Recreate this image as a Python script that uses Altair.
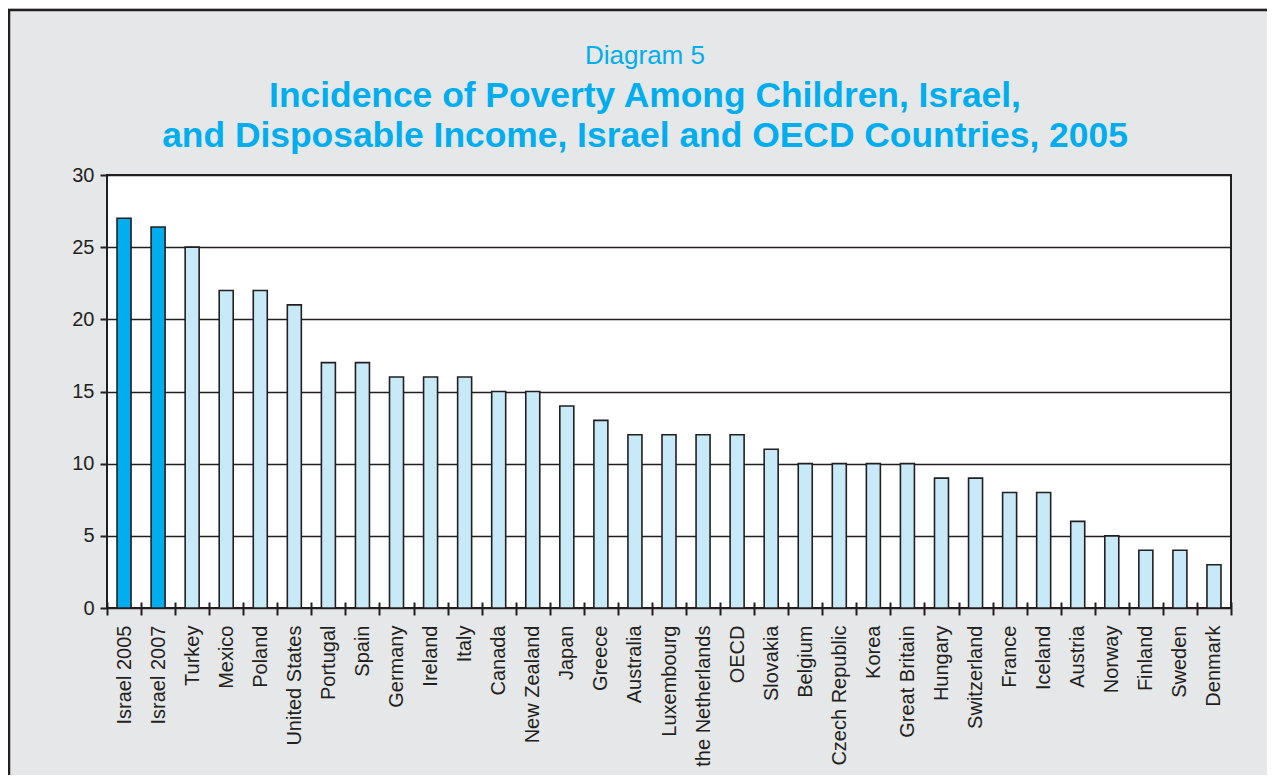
import altair as alt
import pandas as pd

categories = ["Israel 2005", "Israel 2007", "Turkey", "Mexico", "Poland", "United States",
              "Portugal", "Spain", "Germany", "Ireland", "Italy", "Canada", "New Zealand",
              "Japan", "Greece", "Australia", "Luxembourg", "the Netherlands", "OECD",
              "Slovakia", "Belgium", "Czech Republic", "Korea", "Great Britain", "Hungary",
              "Switzerland", "France", "Iceland", "Austria", "Norway", "Finland", "Sweden",
              "Denmark"]
values = [27, 26.4, 25, 22, 22, 21, 17, 17, 16, 16, 16, 15, 15, 14, 13, 12, 12, 12, 12,
          11, 10, 10, 10, 10, 9, 9, 8, 8, 6, 5, 4, 4, 3]
groups = ["Israel" if c.startswith("Israel") else "Other" for c in categories]
y_ticks = [0, 5, 10, 15, 20, 25, 30]

INK = "#231f20"
BG = "#e6e7e8"
CYAN = "#00aeef"
LIGHT = "#c8e9f8"
FONT = "Liberation Sans"

PW, PH = 1124, 433
PAD = {"left": 99, "top": 167, "right": 36, "bottom": 167}

df = pd.DataFrame({"country": categories, "value": values, "group": groups})

bars = alt.Chart(df).mark_bar(width=14, stroke=INK, strokeWidth=1.6).encode(
    x=alt.X("country:N", sort=categories,
            scale=alt.Scale(paddingInner=0, paddingOuter=0),
            axis=alt.Axis(title=None, labelAngle=270, tickBand="extent", tickSize=13,
                          tickWidth=2, tickColor=INK, offset=-6, domain=False,
                          labelPadding=10, labelFontSize=20, labelFont=FONT,
                          labelColor=INK, labelOverlap=False, grid=False)),
    y=alt.Y("value:Q", scale=alt.Scale(domain=[0, 30], nice=False),
            axis=alt.Axis(title=None, values=y_ticks, tickSize=7, tickWidth=2,
                          tickColor=INK, domain=False, labelPadding=6,
                          labelFontSize=20, labelFont=FONT, labelColor=INK,
                          grid=True, gridColor=INK, gridWidth=1.5)),
    color=alt.Color("group:N", scale=alt.Scale(domain=["Israel", "Other"],
                                               range=[CYAN, LIGHT]), legend=None),
)

frame = alt.Chart(alt.Data(values=[{"f": 1}])).mark_rect(
    fillOpacity=0, stroke=INK, strokeWidth=2.5
).encode(
    x=alt.value(-98), x2=alt.value(PW + PAD["right"] + 3),
    y=alt.value(-165), y2=alt.value(PH + PAD["bottom"] + 3),
)

chart = alt.layer(bars, frame).properties(
    width=PW, height=PH,
    title=alt.TitleParams(
        text="Diagram 5",
        subtitle=["Incidence of Poverty Among Children, Israel,",
                  "and Disposable Income, Israel and OECD Countries, 2005"],
        color=CYAN, subtitleColor=CYAN,
        font=FONT, subtitleFont=FONT,
        fontSize=26, fontWeight="normal",
        subtitleFontSize=35.4, subtitleFontWeight="bold",
        subtitleLineHeight=40, subtitlePadding=10,
        anchor="middle", frame="group", dx=-24, offset=-146,
    ),
    autosize=alt.AutoSizeParams(type="none"),
    padding=PAD,
    background=BG,
).configure_view(
    fill="white", stroke=INK, strokeWidth=2
)

chart.save("out.html", embed_options={"renderer": "svg", "actions": False})
